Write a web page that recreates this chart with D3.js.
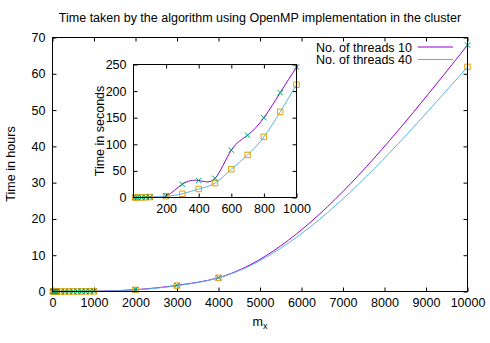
<!DOCTYPE html>
<html>
<head>
<meta charset="utf-8">
<script src="https://cdn.jsdelivr.net/npm/d3@7"></script>
<style>
  body { margin: 0; background: #fff; }
  svg text { font-family: "Liberation Sans", Arial, sans-serif; fill: #000; }
</style>
</head>
<body>
<svg id="chart" width="490" height="343"></svg>
<script>
// problem sizes up to 1000 (timed in seconds)
var mxSmall = [10, 25, 50, 75, 100, 200, 300, 400, 500, 600, 700, 800, 900, 1000];
var threads10Sec = [0.02, 0.05, 0.2, 0.4, 0.8, 3, 25, 32, 36, 89, 117, 150, 197, 245];
var threads40Sec = [0.03, 0.06, 0.2, 0.4, 0.9, 2.5, 7, 16, 27, 53, 80, 114, 161, 212];
// bigger problem sizes (hours)
var mxLarge = [2000, 3000, 4000, 10000];
var threads10Hours = [0.5, 1.7, 3.8, 67.9];
var threads40Hours = [0.45, 1.6, 3.75, 61.9];

var seriesNames = ["No. of threads 10", "No. of threads 40"];
var mainXTicks = d3.range(0, 10001, 1000);
var mainYTicks = d3.range(0, 71, 10);
var insetXTicks = [200, 400, 600, 800, 1000];
var insetYTicks = d3.range(0, 251, 50);

var lineColors = ["#9400d3", "#56b4e9"];
var pointColors = ["#009e73", "#e69f00"];
var fs = "12.5px";

function toHours(xs, secs, hours) {
    var out = xs.map(function (x, i) { return {x: x, y: secs[i] / 3600}; });
    mxLarge.forEach(function (x, i) { out.push({x: x, y: hours[i]}); });
    return out;
}

var mainData = [toHours(mxSmall, threads10Sec, threads10Hours), toHours(mxSmall, threads40Sec, threads40Hours)];
var insetData = [
    mxSmall.map(function (x, i) { return {x: x, y: threads10Sec[i]}; }),
    mxSmall.map(function (x, i) { return {x: x, y: threads40Sec[i]}; })
];

var svg = d3.select("#chart");

// title
svg.append("text")
    .attr("x", 260).attr("y", 22)
    .attr("text-anchor", "middle")
    .style("font-size", fs)
    .text("Time taken by the algorithm using OpenMP implementation in the cluster");

function drawPanel(box, xDomain, yDomain, xTicks, yTicks, data, curve) {
    var x = d3.scaleLinear().domain(xDomain).range([box.left, box.right]);
    var y = d3.scaleLinear().domain(yDomain).range([box.bottom, box.top]);
    var g = svg.append("g");
    var fmt = d3.format("d");

    g.append("rect")
        .attr("x", box.left).attr("y", box.top)
        .attr("width", box.right - box.left).attr("height", box.bottom - box.top)
        .attr("fill", box.fill || "none");

    // inward ticks, mirrored
    g.append("g").attr("transform", "translate(0," + box.bottom + ")")
        .call(d3.axisBottom(x).tickValues(xTicks).tickSize(-4).tickPadding(7).tickFormat(fmt));
    g.append("g").attr("transform", "translate(0," + box.top + ")")
        .call(d3.axisTop(x).tickValues(xTicks).tickSize(-4).tickFormat(""));
    g.append("g").attr("transform", "translate(" + box.left + ",0)")
        .call(d3.axisLeft(y).tickValues(yTicks).tickSize(-4).tickPadding(7).tickFormat(fmt));
    g.append("g").attr("transform", "translate(" + box.right + ",0)")
        .call(d3.axisRight(y).tickValues(yTicks).tickSize(-4).tickFormat(""));
    g.selectAll(".domain").remove();
    g.selectAll(".tick line").attr("stroke", "#000");
    g.selectAll(".tick text").style("font-size", fs).attr("font-family", null);

    var line = d3.line()
        .curve(curve)
        .x(function (d) { return x(d.x); })
        .y(function (d) { return y(d.y); });

    data.forEach(function (s, k) {
        g.append("path")
            .datum(s)
            .attr("fill", "none")
            .attr("stroke", lineColors[k])
            .attr("stroke-width", 1)
            .attr("d", line);
    });

    // markers
    var cross = d3.symbol().type(d3.symbolTimes || d3.symbolCross).size(20);
    var square = d3.symbol().type(d3.symbolSquare).size(30);
    g.selectAll(".p40").data(data[1]).enter().append("path")
        .attr("transform", function (d) { return "translate(" + x(d.x) + "," + y(d.y) + ")"; })
        .attr("d", square)
        .attr("fill", "none")
        .attr("stroke", pointColors[1]);
    g.selectAll(".p10").data(data[0]).enter().append("path")
        .attr("transform", function (d) { return "translate(" + x(d.x) + "," + y(d.y) + ")"; })
        .attr("d", cross)
        .attr("fill", "none")
        .attr("stroke", pointColors[0]);

    g.append("rect")
        .attr("x", box.left).attr("y", box.top)
        .attr("width", box.right - box.left).attr("height", box.bottom - box.top)
        .attr("fill", "none").attr("stroke", "#000");
    return g;
}

drawPanel({left: 52.5, right: 467.5, top: 37.5, bottom: 291.5},
    [0, 10000], [0, 70], mainXTicks, mainYTicks, mainData, d3.curveMonotoneX);

// axis labels
svg.append("text")
    .attr("transform", "translate(15,164) rotate(-90)")
    .attr("text-anchor", "middle")
    .style("font-size", fs)
    .text("Time in hours");

var xl = svg.append("text")
    .attr("x", 260).attr("y", 326)
    .attr("text-anchor", "middle")
    .style("font-size", fs);
xl.append("tspan").text("m");
xl.append("tspan").attr("dy", 3).style("font-size", "9px").text("x");

// legend
seriesNames.forEach(function (name, k) {
    var ly = 47 + k * 12.5;
    svg.append("text")
        .attr("x", 412).attr("y", ly + 4.5)
        .attr("text-anchor", "end")
        .style("font-size", fs)
        .text(name);
    svg.append("line")
        .attr("x1", 418).attr("x2", 453)
        .attr("y1", ly).attr("y2", ly)
        .attr("stroke", lineColors[k]);
});

// inset
drawPanel({left: 133.5, right: 296.5, top: 64.5, bottom: 197.5, fill: "#fff"},
    [0, 1000], [0, 250], insetXTicks, insetYTicks, insetData, d3.curveNatural);

svg.append("text")
    .attr("transform", "translate(104,131) rotate(-90)")
    .attr("text-anchor", "middle")
    .style("font-size", fs)
    .text("Time in seconds");
</script>
</body>
</html>
